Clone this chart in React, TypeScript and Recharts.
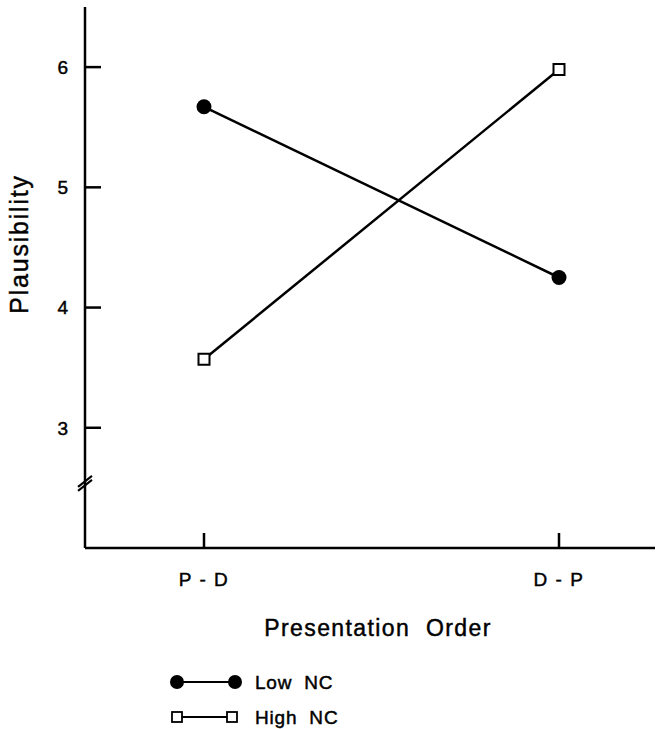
import React from "react";
import { LineChart, Line, XAxis, YAxis, Legend, Label } from "recharts";

const categories = ["P - D", "D - P"];
const lowNC = [5.67, 4.25];
const highNC = [3.57, 5.98];
const yTicks = [2.55, 3, 4, 5, 6];
const BREAK_TICK = 2.55;
const seriesNames = ["Low NC", "High NC"];

const data = categories.map((c, i) => ({ order: c, low: lowNC[i], high: highNC[i] }));

const FONT = "'Liberation Sans', Arial, Helvetica, sans-serif";
const EMB = { stroke: "#000", strokeWidth: 0.45 };

const YTick = (props: any) => {
  const { x, y, payload } = props;
  if (payload.value === BREAK_TICK) {
    return (
      <g stroke="#000" strokeWidth={2}>
        <line x1={x - 7} y1={y + 5} x2={x + 7} y2={y - 6} />
        <line x1={x - 7} y1={y + 9} x2={x + 7} y2={y - 2} />
      </g>
    );
  }
  return (
    <g>
      <line x1={x} y1={y} x2={x + 16} y2={y} stroke="#000" strokeWidth={2.5} />
      <text x={x - 17} y={y} dy="0.36em" textAnchor="end" fontSize={19} fontFamily={FONT} fill="#000" {...EMB}>
        {payload.value}
      </text>
    </g>
  );
};

const XTick = (props: any) => {
  const { x, y, payload } = props;
  return (
    <g>
      <line x1={x} y1={y} x2={x} y2={y - 15} stroke="#000" strokeWidth={2.5} />
      <text x={x} y={y + 38} textAnchor="middle" fontSize={19} letterSpacing={1.5} fontFamily={FONT} fill="#000" {...EMB}>
        {payload.value}
      </text>
    </g>
  );
};

const SquareDot = (props: any) => {
  const { cx, cy } = props;
  return <rect x={cx - 5.5} y={cy - 5.5} width={11} height={11} fill="#fff" stroke="#000" strokeWidth={2} />;
};

const CircleDot = (props: any) => {
  const { cx, cy } = props;
  return <circle cx={cx} cy={cy} r={7.5} fill="#000" />;
};

const LegendContent = () => (
  <svg width={220} height={62} style={{ display: "block" }}>
    <g fontFamily={FONT} fontSize={19} fill="#000">
      <line x1={17} y1={14} x2={75} y2={14} stroke="#000" strokeWidth={1.8} />
      <circle cx={17} cy={14} r={7} fill="#000" />
      <circle cx={75} cy={14} r={7} fill="#000" />
      <text x={95} y={21} letterSpacing={0.8} wordSpacing={6} {...EMB}>{seriesNames[0]}</text>
      <line x1={17} y1={49} x2={72} y2={49} stroke="#000" strokeWidth={1.8} />
      <rect x={12} y={44} width={10} height={10} fill="#fff" stroke="#000" strokeWidth={1.8} />
      <rect x={67} y={44} width={10} height={10} fill="#fff" stroke="#000" strokeWidth={1.8} />
      <text x={95} y={56} letterSpacing={0.8} wordSpacing={6} {...EMB}>{seriesNames[1]}</text>
    </g>
  </svg>
);

export default function App() {
  return (
    <div style={{ position: "absolute", left: 0, top: 0, background: "#fff" }}>
      <LineChart width={659} height={729} data={data} margin={{ top: 7, right: 4, left: 0, bottom: 0 }}>
        <XAxis
          dataKey="order"
          height={181}
          padding={{ left: 119, right: 96 }}
          axisLine={{ stroke: "#000", strokeWidth: 2.5 }}
          tickLine={false}
          tickSize={0}
          tickMargin={0}
          tick={<XTick />}
          interval={0}
        >
          <Label
            content={(p: any) => {
              const vb = p.viewBox;
              return (
                <text
                  x={vb.x + vb.width / 2 + 8}
                  y={vb.y + 88}
                  textAnchor="middle"
                  fontSize={23}
                  letterSpacing={1.4}
                  wordSpacing={8}
                  fontFamily={FONT}
                  fill="#000"
                  {...EMB}
                >
                  Presentation Order
                </text>
              );
            }}
          />
        </XAxis>
        <YAxis
          width={85}
          domain={[2, 6.5]}
          ticks={yTicks}
          type="number"
          allowDataOverflow
          axisLine={{ stroke: "#000", strokeWidth: 2.5 }}
          tickLine={false}
          tickSize={0}
          tickMargin={0}
          tick={<YTick />}
          interval={0}
        >
          <Label
            content={() => (
              <text
                x={28}
                y={244}
                transform="rotate(-90, 28, 244)"
                textAnchor="middle"
                fontSize={25}
                letterSpacing={1.8}
                fontFamily={FONT}
                fill="#000"
                {...EMB}
              >
                Plausibility
              </text>
            )}
          />
        </YAxis>
        <Legend
          layout="vertical"
          align="center"
          verticalAlign="middle"
          content={<LegendContent />}
          wrapperStyle={{ left: 160, top: 668, width: 220, height: 62 }}
        />
        <Line
          dataKey="low"
          name={seriesNames[0]}
          stroke="#000"
          strokeWidth={2.5}
          dot={<CircleDot />}
          activeDot={false}
          isAnimationActive={false}
        />
        <Line
          dataKey="high"
          name={seriesNames[1]}
          stroke="#000"
          strokeWidth={2.5}
          dot={<SquareDot />}
          activeDot={false}
          isAnimationActive={false}
        />
      </LineChart>
    </div>
  );
}
